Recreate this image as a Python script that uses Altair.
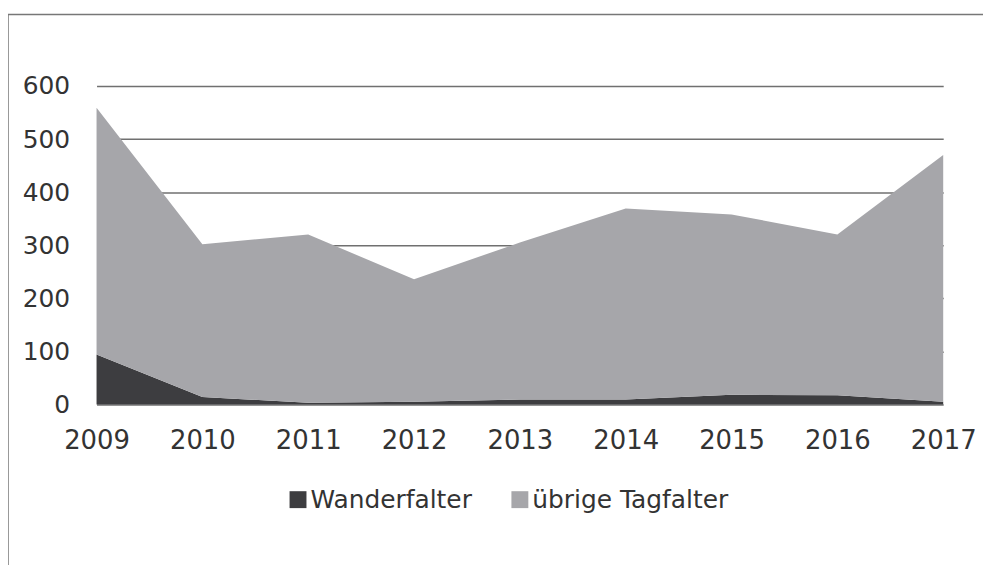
import altair as alt
import pandas as pd

years = [2009, 2010, 2011, 2012, 2013, 2014, 2015, 2016, 2017]
wanderfalter = [94, 14, 3, 5, 9, 9, 18, 17, 5]
uebrige = [465, 288, 317, 231, 296, 360, 340, 303, 465]
series_names = ["Wanderfalter", "übrige Tagfalter"]
series_colors = ["#3d3d40", "#a6a6aa"]
y_ticks = [0, 100, 200, 300, 400, 500, 600]

rows = []
for i, yr in enumerate(years):
    rows.append({"Jahr": yr, "Gruppe": series_names[0], "Anzahl": wanderfalter[i], "o": 0})
    rows.append({"Jahr": yr, "Gruppe": series_names[1], "Anzahl": uebrige[i], "o": 1})
df = pd.DataFrame(rows)

FONT = "DejaVu Sans"

area = alt.Chart(df).mark_area(interpolate="linear", opacity=1).encode(
    x=alt.X("Jahr:Q",
            scale=alt.Scale(domain=[2009, 2017], nice=False, zero=False),
            axis=alt.Axis(values=years, format="d", title=None, grid=False,
                          domain=False, ticks=False, labelPadding=23, labelFlush=False,
                          labelFontSize=26, labelFont=FONT, labelColor="#333333")),
    y=alt.Y("Anzahl:Q", stack="zero",
            scale=alt.Scale(domain=[0, 600], nice=False),
            axis=alt.Axis(values=y_ticks, title=None, grid=True, gridColor="#707070",
                          gridWidth=1.5, domain=False, ticks=False, labelPadding=27,
                          labelFontSize=25, labelFont=FONT, labelColor="#333333")),
    color=alt.Color("Gruppe:N",
                    scale=alt.Scale(domain=series_names, range=series_colors),
                    legend=alt.Legend(title=None, orient="none", legendX=190, legendY=403,
                                      direction="horizontal", symbolType="square",
                                      symbolSize=289, symbolStrokeWidth=0, labelOffset=0,
                                      columnPadding=35, padding=0, labelFontSize=25,
                                      labelLimit=400,
                                      labelFont=FONT, labelColor="#333333")),
    order=alt.Order("o:Q"),
)

frame_df = pd.DataFrame({"k": [0]})
frame_left = alt.Chart(frame_df).mark_rule(color="#777777", strokeWidth=1.5).encode(
    x=alt.value(-89), y=alt.value(-72), y2=alt.value(600)
)
frame_top = alt.Chart(frame_df).mark_rule(color="#777777", strokeWidth=1.5).encode(
    x=alt.value(-89), x2=alt.value(1000), y=alt.value(-72)
)

chart = alt.layer(area, frame_left, frame_top).properties(
    width=851, height=320,
    autosize="none",
    padding={"left": 89, "top": 77, "right": 40, "bottom": 160},
    background="white",
).configure_view(stroke=None)

chart.save("out.html", embed_options={"renderer": "svg", "actions": False})
